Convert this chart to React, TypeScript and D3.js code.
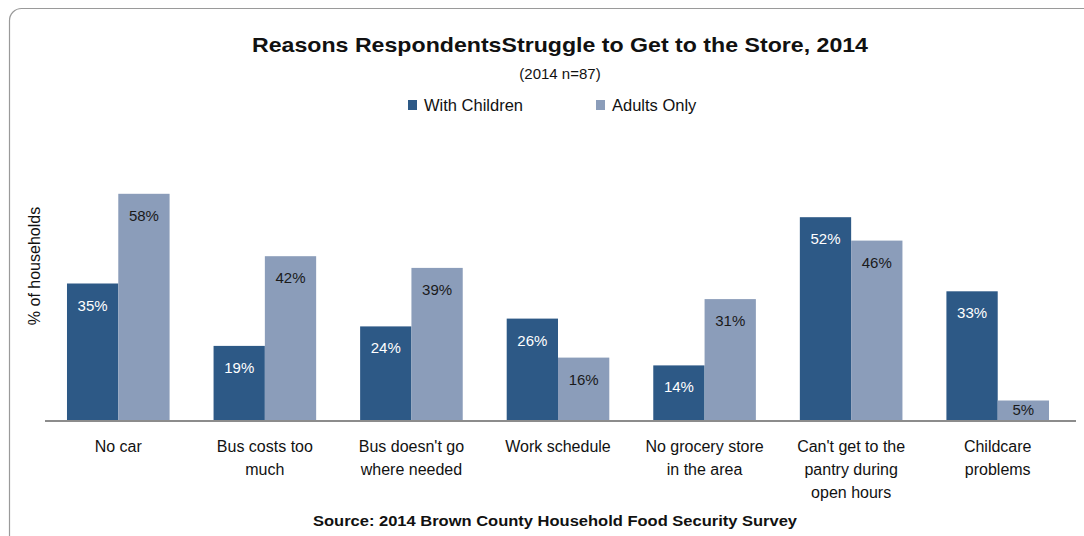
import React from "react";
import * as d3 from "d3";

const categories = [
  ["No car"],
  ["Bus costs too", "much"],
  ["Bus doesn't go", "where needed"],
  ["Work schedule"],
  ["No grocery store", "in the area"],
  ["Can't get to the", "pantry during", "open hours"],
  ["Childcare", "problems"],
];
const withChildren = [35, 19, 24, 26, 14, 52, 33];
const adultsOnly = [58, 42, 39, 16, 31, 46, 5];
const seriesNames = ["With Children", "Adults Only"];
const colors = ["#2D5986", "#8B9DBA"];
const labelColors = ["#FFFFFF", "#1a1a1a"];

const W = 1084;
const H = 536;
const FONT = "'Liberation Sans', Arial, sans-serif";

export default function App() {
  const left = 45;
  const right = 1071;
  const baseY = 420;
  const x0 = d3
    .scaleBand<number>()
    .domain(categories.map((_, i) => i))
    .range([left, right])
    .paddingInner(0.3)
    .paddingOuter(0.15);
  const x1 = d3.scaleBand<number>().domain([0, 1]).range([0, x0.bandwidth()]);
  const y = d3.scaleLinear().domain([0, 60]).range([baseY, baseY - 234]);
  const series = [withChildren, adultsOnly];

  return (
    <svg
      width={W}
      height={H}
      style={{ position: "absolute", left: 0, top: 0, background: "#fff" }}
      fontFamily={FONT}
    >
      <rect x={9.5} y={8.5} width={1100} height={560} rx={12} fill="#fff" stroke="#9a9a9a" strokeWidth={1.2} />
      <text x={560} y={52} textAnchor="middle" fontSize={20.5} fontWeight="bold" fill="#111" textLength={616} lengthAdjust="spacingAndGlyphs">
        Reasons RespondentsStruggle to Get to the Store, 2014
      </text>
      <text x={560} y={79} textAnchor="middle" fontSize={15} fill="#111">
        (2014 n=87)
      </text>
      {seriesNames.map((s, i) => {
        const lx = i === 0 ? 408 : 596;
        return (
          <g key={s}>
            <rect x={lx} y={100} width={9} height={10} fill={colors[i]} />
            <text x={lx + 16} y={111} fontSize={16.5} fill="#111">
              {s}
            </text>
          </g>
        );
      })}
      <text
        transform={`translate(40,266) rotate(-90)`}
        textAnchor="middle"
        fontSize={16}
        fill="#111"
      >
        % of households
      </text>
      {categories.map((c, i) => (
        <g key={i}>
          {series.map((vals, s) => {
            const bx = (x0(i) as number) + (x1(s) as number);
            const bw = x1.bandwidth();
            const h = baseY - y(vals[i]);
            const ly = y(vals[i]) + Math.min(22, h / 2) + 5;
            return (
              <g key={s}>
                <rect x={bx} y={y(vals[i])} width={bw} height={h} fill={colors[s]} />
                <text x={bx + bw / 2} y={ly} textAnchor="middle" fontSize={15} fill={labelColors[s]}>
                  {vals[i]}%
                </text>
              </g>
            );
          })}
          {c.map((line, k) => (
            <text
              key={k}
              x={(x0(i) as number) + x0.bandwidth() / 2}
              y={452 + k * 23}
              textAnchor="middle"
              fontSize={16}
              fill="#111"
            >
              {line}
            </text>
          ))}
        </g>
      ))}
      <line x1={left} x2={1076} y1={baseY + 1} y2={baseY + 1} stroke="#8c8c8c" strokeWidth={2} />
      <text x={555} y={526} textAnchor="middle" fontSize={14} fontWeight="bold" fill="#111" textLength={484} lengthAdjust="spacingAndGlyphs">
        Source:  2014 Brown County Household Food Security Survey
      </text>
    </svg>
  );
}
